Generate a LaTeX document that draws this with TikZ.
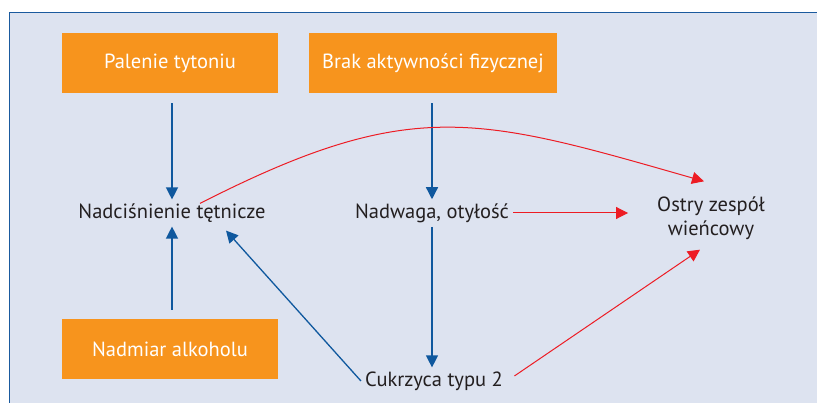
\documentclass[tikz,border=0pt]{standalone}
\usepackage{fontspec}
\setmainfont{PT Sans}
\usetikzlibrary{positioning,arrows.meta}
\definecolor{panelbg}{RGB}{221,227,240}
\definecolor{panelline}{RGB}{26,90,158}
\definecolor{boxorange}{RGB}{247,148,29}
\definecolor{linkblue}{RGB}{15,88,158}
\definecolor{linkred}{RGB}{237,28,36}
\definecolor{textgray}{RGB}{35,31,32}

\begin{document}
\begin{tikzpicture}[x=1pt, y=1pt,
	factor/.style={fill=boxorange, text=white, minimum height=60pt,
		font=\fontsize{20.5}{24}\selectfont},
	state/.style={text=textgray, align=center, inner sep=4pt,
		font=\fontsize{20.5}{24}\selectfont},
	bluelink/.style={draw=linkblue, line width=1.3pt,
		-{Triangle[length=12pt, width=12pt]}},
	redlink/.style={draw=linkred, line width=1pt,
		-{Triangle[length=12pt, width=12pt]}}]
	\useasboundingbox (0,0) rectangle (817,402);
	\fill[panelbg] (9.5,-20) rectangle (840,389.5);
	\draw[panelline, line width=1.5pt] (9.5,-20) -- (9.5,389.5) -- (840,389.5);

	\node[factor, minimum width=216pt] (pal) at (170,339) {Palenie tytoniu};
	\node[factor, minimum width=248pt] (brak) at (433,339) {Brak aktywności fizycznej};
	\node[factor, minimum width=216pt] (alk) at (170,53) {Nadmiar alkoholu};
	\node[state] (ht) at (172,189) {Nadciśnienie tętnicze};
	\node[state] (bmi) at (432,189) {Nadwaga, otyłość};
	\node[state] (acs) at (711,184) {Ostry zespół\\wieńcowy};
	\node[state] (dm) at (434,21) {Cukrzyca typu 2};

	\path
	(pal.south -| ht.north) edge[bluelink, shorten <=10pt] (ht.north)
	(alk.north -| ht.south) edge[bluelink, shorten <=9pt] (ht.south)
	(brak.south -| bmi.north) edge[bluelink, shorten <=10pt] (bmi.north)
	(bmi.south) edge[bluelink] (bmi.south |- dm.north)
	(dm.west) edge[bluelink] ([xshift=54pt, yshift=-4pt]ht.south);
	\path
	(bmi.east) edge[redlink, shorten >=25pt] (bmi.east -| acs.west)
	(dm.east) edge[redlink, shorten <=9pt] ([xshift=-11pt, yshift=-6pt]acs.south)
	([xshift=28pt, yshift=-4pt]ht.north) edge[redlink, out=27, in=164, looseness=1.2]
		([xshift=-7pt, yshift=11pt]acs.north);
\end{tikzpicture}
\end{document}
